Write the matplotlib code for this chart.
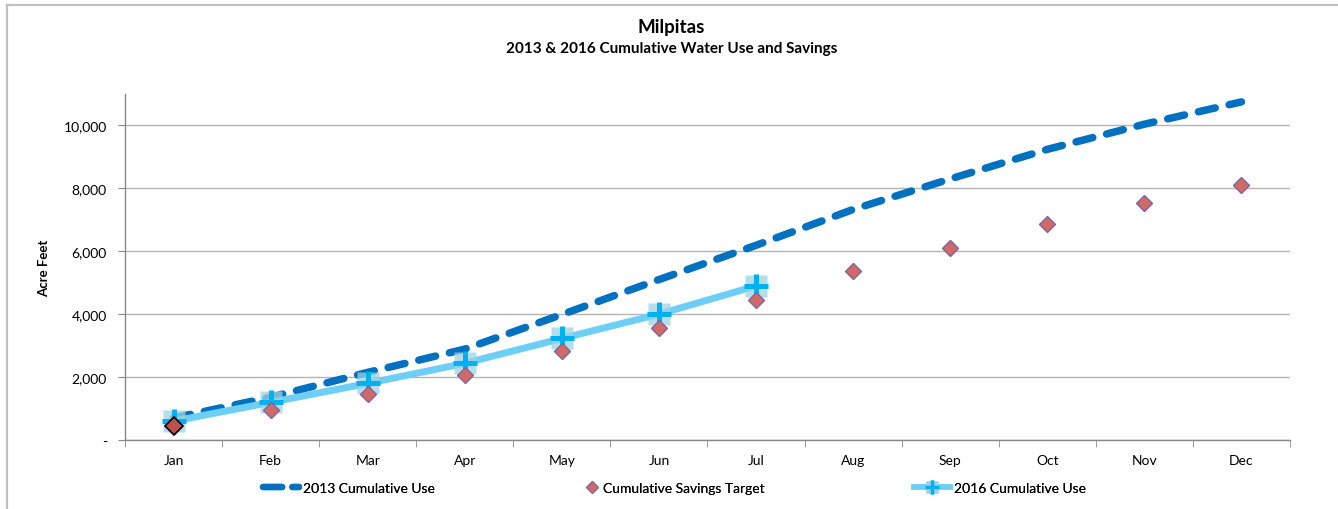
import numpy as np
import matplotlib.pyplot as plt
from matplotlib.lines import Line2D
from matplotlib.ticker import FixedLocator, FuncFormatter

plt.rcParams['font.family'] = ['Lato', 'DejaVu Sans']

months = ['Jan', 'Feb', 'Mar', 'Apr', 'May', 'Jun', 'Jul', 'Aug', 'Sep', 'Oct', 'Nov', 'Dec']
use_2013 = [700, 1360, 2150, 2890, 3990, 5100, 6190, 7330, 8300, 9240, 10040, 10750]
savings_target = [460, 965, 1460, 2080, 2835, 3546, 4454, 5375, 6117, 6879, 7524, 8095]
use_2016 = [600, 1197, 1800, 2440, 3228, 4000, 4899]

x = np.arange(len(months))
x16 = np.arange(len(use_2016))

W, H = 1338, 510
fig = plt.figure(figsize=(W / 100, H / 100), dpi=100)
ax = fig.add_axes([125 / W, 1 - 441 / H, 1165 / W, 346 / H])

# chart frame (top and left edge)
fig.add_artist(Line2D([7 / W, 7 / W], [0, 1 - 6 / H], color='#c0c0c0', lw=1.6,
                      transform=fig.transFigure))
fig.add_artist(Line2D([7 / W, 1], [1 - 6 / H, 1 - 6 / H], color='#c0c0c0', lw=1.6,
                      transform=fig.transFigure))

# 2013 dashed line
l13, = ax.plot(x, use_2013, color='#0070C0', lw=5.4, dashes=(2.3, 1.9),
               dash_capstyle='round', solid_capstyle='round', zorder=3)

# 2016 line with square-backed plus markers
ax.plot(x16, use_2016, color='#6DCFF6', lw=5.0, zorder=4)
ax.plot(x16, use_2016, ls='none', marker='s', ms=16, mfc='#9CD3E3', mec='none',
        alpha=0.75, zorder=5)
ax.plot(x16, use_2016, ls='none', marker='+', ms=17, mew=3.6, color='#00B0F0', zorder=6)

# savings target diamonds
ax.plot(x, savings_target, ls='none', marker='D', ms=8, mfc='#D06A66', mec='#8064A2',
        mew=1.0, zorder=7)
ax.plot(x[:1], savings_target[:1], ls='none', marker='D', ms=9, mfc='#C0504D', mec='black',
        mew=1.2, zorder=8)

ax.set_xlim(-0.5, 11.5)
ax.set_ylim(0, 11000)

ax.set_xticks(x)
ax.set_xticklabels(months, fontsize=10)
ax.xaxis.set_minor_locator(FixedLocator(np.arange(-0.5, 12, 1)))
ax.tick_params(axis='x', which='major', length=0, pad=10)
ax.tick_params(axis='x', which='minor', length=5, color='#888888', direction='out')

ax.set_yticks(np.arange(0, 10001, 2000))
ax.yaxis.set_major_formatter(FuncFormatter(lambda v, p: '-' if v == 0 else f'{v:,.0f}'))
ax.tick_params(axis='y', length=5, color='#888888', labelsize=10, pad=8)
ax.grid(axis='y', color='#b4b4b4', lw=1.0)
ax.set_axisbelow(True)

for s in ['top', 'right']:
    ax.spines[s].set_visible(False)
for s in ['left', 'bottom']:
    ax.spines[s].set_color('#888888')
    ax.spines[s].set_linewidth(1.0)

ax.set_ylabel('Acre Feet', fontsize=9.5, fontweight='bold', labelpad=10)

fig.text(0.502, 1 - 28 / H, 'Milpitas', ha='center', va='center', fontsize=13.5, fontweight='bold')
fig.text(0.502, 1 - 49 / H, '2013 & 2016 Cumulative Water Use and Savings', ha='center',
         va='center', fontsize=11, fontweight='bold')

# legend entries, laid out one by one along the bottom
h13 = Line2D([], [], color='#0070C0', lw=4.6, dashes=(3.0, 1.6), dash_capstyle='round')
hdm = Line2D([], [], ls='none', marker='D', ms=6, mfc='#D06A66', mec='#8064A2', mew=0.8)
h16a = Line2D([], [], color='#6DCFF6', lw=4.0, marker='s', ms=9, mfc='#9CD3E3', mec='none')
h16b = Line2D([], [], ls='none', marker='+', ms=10, mew=2.5, color='#00B0F0')

entries = [
    (h13, '2013 Cumulative Use', 263, 2.6),
    (hdm, 'Cumulative Savings Target', 585, 1.0),
    ((h16a, h16b), '2016 Cumulative Use', 914, 2.6),
]
for handle, label, x0, hl in entries:
    lg = fig.legend([handle], [label], loc='center left', bbox_to_anchor=(x0 / W, 1 - 489 / H),
                    frameon=False, fontsize=10, handlelength=hl, handletextpad=0.3,
                    borderpad=0, borderaxespad=0)
    fig.add_artist(lg)

fig.savefig('out.png', dpi=100)
